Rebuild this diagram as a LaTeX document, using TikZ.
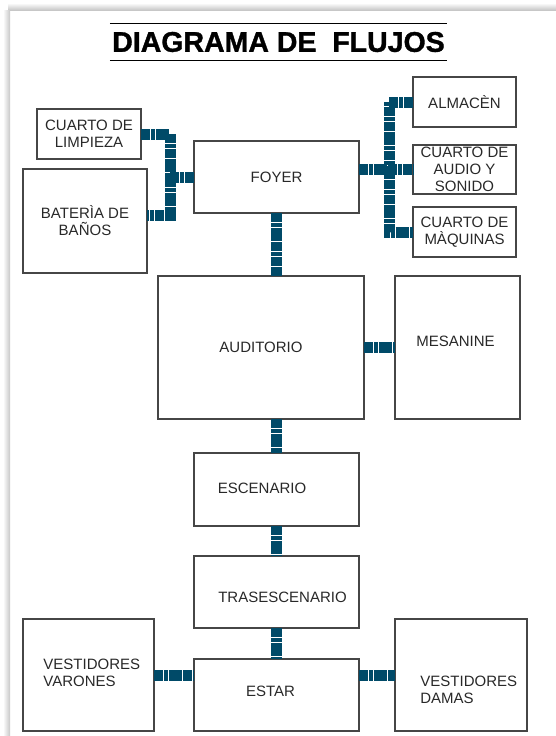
\documentclass[tikz,border=0pt]{standalone}
\usepackage{fontspec}
\setmainfont{Liberation Sans}
\newfontfamily\titulofont[FakeBold=1.2]{Liberation Sans Bold}
\usetikzlibrary{positioning}
\definecolor{flujoazul}{RGB}{0, 74, 104}
\definecolor{bordegris}{RGB}{70, 70, 70}
\definecolor{textogris}{RGB}{40, 40, 40}

\begin{document}
\begin{tikzpicture}[x=1pt,y=-1pt,
  sala/.style={rectangle,draw=bordegris,line width=1.1pt,inner sep=0pt,outer sep=0pt,
    align=center,text=textogris,font=\fontsize{15}{17}\selectfont},
  rotulo/.style={inner sep=0pt,text=textogris,font=\fontsize{15}{17}\selectfont},
  flujo/.style={draw=flujoazul,line width=11pt,line cap=butt,line join=miter,
    dash pattern=on 9pt off 0.8pt on 4pt off 0.8pt},
  regla/.style={draw=black,line width=1.3pt}
]
  \useasboundingbox (0,0) rectangle (556,736);
  % sombra de la pagina
  \shade[top color=white,bottom color=black!22] (8,3) rectangle (556,10);
  \shade[left color=white,right color=black!22] (3,10) rectangle (10,736);

  % titulo
  \node[minimum width=337pt,minimum height=36pt,inner sep=0pt,
    font=\titulofont\fontsize{28.5}{34}\selectfont] (titulo) at (278.5,42)
    {DIAGRAMA DE\ \ FLUJOS};
  \draw[regla] (titulo.north west) -- (titulo.north east);
  \draw[regla] (titulo.south west) -- (titulo.south east);

  % columna central
  \node[sala,minimum width=165pt,minimum height=72pt] (foyer) at (276.5,177) {FOYER};
  \node[sala,minimum width=206pt,minimum height=143pt,below=63pt of foyer,xshift=-15.5pt]
    (auditorio) {AUDITORIO};
  \node[sala,minimum width=165pt,minimum height=73pt,below=34pt of auditorio,xshift=15.5pt,
    label={[rotulo,xshift=-14.5pt,yshift=1.5pt]center:ESCENARIO}] (escenario) {};
  \node[sala,minimum width=165pt,minimum height=72pt,below=30pt of escenario,
    label={[rotulo,xshift=6pt,yshift=-5pt]center:TRASESCENARIO}] (trasescenario) {};
  \node[sala,minimum width=165pt,minimum height=72pt,below=31pt of trasescenario,
    label={[rotulo,xshift=-6pt,yshift=4pt]center:ESTAR}] (estar) {};

  % salas laterales
  \node[sala,minimum width=125pt,minimum height=143pt,right=31pt of auditorio,
    label={[rotulo,xshift=-2pt,yshift=6.5pt]center:MESANINE}] (mesanine) {};
  \node[sala,minimum width=131pt,minimum height=112pt,left=40pt of estar,yshift=20pt,
    label={[rotulo,align=left,xshift=3.25pt,yshift=2.5pt]center:VESTIDORES\\VARONES}]
    (varones) {};
  \node[sala,minimum width=132pt,minimum height=112pt,right=36pt of estar,yshift=20pt,
    label={[rotulo,align=left,xshift=7.75pt,yshift=-14.5pt]center:VESTIDORES\\DAMAS}]
    (damas) {};

  \node[sala,minimum width=124pt,minimum height=104pt,left=47pt of foyer,yshift=-44pt]
    (banos) {BATERÌA DE\\BAÑOS};
  \node[sala,minimum width=104pt,minimum height=50pt,above=10pt of banos,xshift=4pt]
    (limpieza) {CUARTO DE\\LIMPIEZA};

  \node[sala,minimum width=103pt,minimum height=49pt,right=54pt of foyer,yshift=7.5pt]
    (audio) {CUARTO DE\\AUDIO Y\\SONIDO};
  \node[sala,minimum width=103pt,minimum height=50pt,above=18pt of audio]
    (almacen) {ALMACÈN};
  \node[sala,minimum width=103pt,minimum height=50pt,below=13pt of audio]
    (maquinas) {CUARTO DE\\MÀQUINAS};

  % nudos de los ramales
  \coordinate (nudoIzq) at ([xshift=-24pt]foyer.west);
  \coordinate (nudoDer) at ([xshift=-24pt]audio.west);

  % flujos
  \draw[flujo] (limpieza.east) -| (nudoIzq) |- ([yshift=5.5pt]banos.east);
  \draw[flujo] (foyer.west) -- (nudoIzq);
  \draw[flujo] (almacen.west) -| (nudoDer) |- (maquinas.west);
  \draw[flujo] (nudoDer -| foyer.east) -- (audio.west);
  \draw[flujo] (foyer.south) -- (foyer.south |- auditorio.north);
  \draw[flujo] (auditorio.east) -- (mesanine.west);
  \draw[flujo] (auditorio.south -| escenario.north) -- (escenario.north);
  \draw[flujo] (escenario.south) -- (trasescenario.north);
  \draw[flujo] (trasescenario.south) -- (estar.north);
  \draw[flujo] (varones.east) -- (varones.east -| estar.west);
  \draw[flujo] (damas.west -| estar.east) -- (damas.west);
\end{tikzpicture}
\end{document}
